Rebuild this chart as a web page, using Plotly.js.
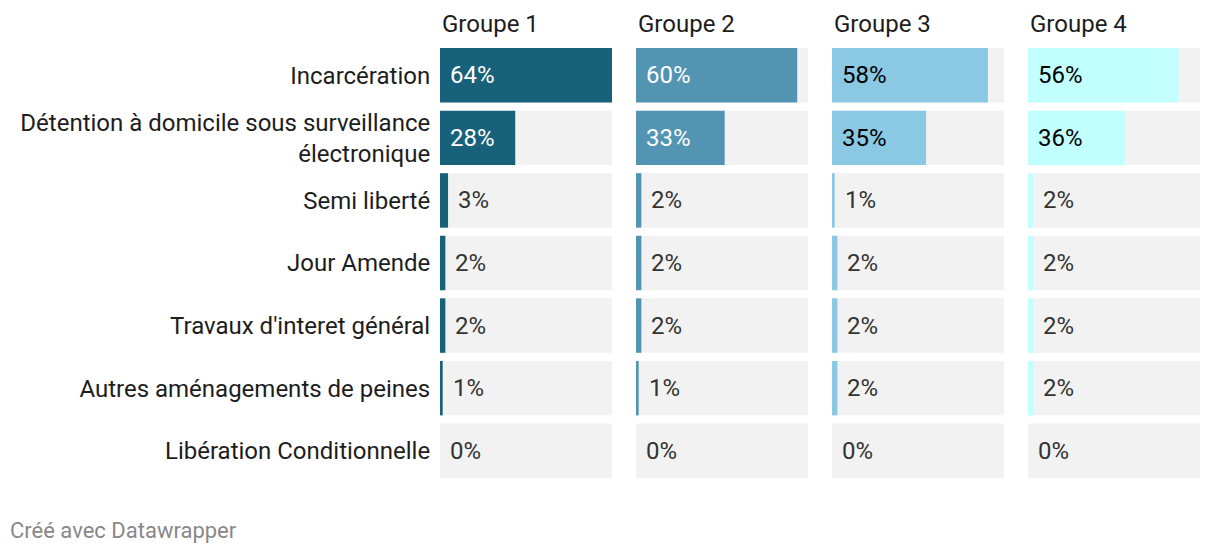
<!DOCTYPE html>
<html>
<head>
<meta charset="utf-8">
<script src="https://cdn.plot.ly/plotly-3.0.1.min.js"></script>
<style>
  html, body { margin: 0; padding: 0; background: #fff; }
  #chart { width: 1220px; height: 554px; }
</style>
</head>
<body>
<div id="chart"></div>
<script>
const categories = [
  'Incarcération',
  'Détention à domicile sous surveillance<br>électronique',
  'Semi liberté',
  'Jour Amende',
  "Travaux d'interet général",
  'Autres aménagements de peines',
  'Libération Conditionnelle'
];
const groups = ['Groupe 1', 'Groupe 2', 'Groupe 3', 'Groupe 4'];
const groupe1 = [64, 28, 3, 2, 2, 1, 0];
const groupe2 = [60, 33, 2, 2, 2, 1, 0];
const groupe3 = [58, 35, 1, 2, 2, 2, 0];
const groupe4 = [56, 36, 2, 2, 2, 2, 0];

const series = [groupe1, groupe2, groupe3, groupe4];
const colors = ['#18617a', '#5294b1', '#8bc8e4', '#c2ffff'];
const insideText = ['#ffffff', '#ffffff', '#000000', '#000000'];
const domains = [[0, 0.2263], [0.2579, 0.4842], [0.5158, 0.7421], [0.7737, 1]];
const maxVal = Math.max(...series.flat());
const font = 'Roboto, "Noto Sans", sans-serif';
const fs = 24;

let data = [];
let annotations = [];
let layout = {
  width: 1220,
  height: 554,
  margin: { l: 440, r: 20, t: 44, b: 72 },
  paper_bgcolor: '#ffffff',
  plot_bgcolor: '#ffffff',
  showlegend: false,
  barmode: 'overlay',
  bargap: 0.13,
  font: { family: font, size: fs, color: '#1d1d1d' }
};

series.forEach((vals, i) => {
  const xa = i === 0 ? 'x' : 'x' + (i + 1);
  const ya = i === 0 ? 'y' : 'y' + (i + 1);
  // grey background bar
  data.push({
    type: 'bar', orientation: 'h',
    x: categories.map(() => maxVal), y: categories,
    xaxis: xa, yaxis: ya,
    marker: { color: '#f2f2f2' },
    hoverinfo: 'skip'
  });
  data.push({
    type: 'bar', orientation: 'h',
    x: vals, y: categories,
    xaxis: xa, yaxis: ya,
    marker: { color: colors[i] },
    hovertemplate: '%{x}%<extra></extra>'
  });
  layout['xaxis' + (i === 0 ? '' : i + 1)] = {
    domain: domains[i], range: [0, maxVal], anchor: ya,
    showgrid: false, zeroline: false, showticklabels: false, fixedrange: true
  };
  layout['yaxis' + (i === 0 ? '' : i + 1)] = {
    domain: [0, 1], anchor: xa, autorange: 'reversed',
    showgrid: false, zeroline: false, showline: false,
    showticklabels: i === 0,
    ticks: i === 0 ? 'outside' : '', ticklen: 4, tickcolor: 'rgba(0,0,0,0)',
    tickfont: { family: font, size: fs, color: '#1d1d1d' },
    fixedrange: true
  };
  annotations.push({
    text: groups[i], xref: xa + ' domain', yref: 'paper',
    x: 0, y: 1, xanchor: 'left', yanchor: 'bottom', yshift: 4, showarrow: false,
    font: { family: font, size: fs, color: '#1d1d1d' }
  });
  vals.forEach((v, j) => {
    const inside = v >= 10;
    annotations.push({
      text: v + '%', xref: xa, yref: ya,
      x: inside ? 0 : v, y: categories[j],
      xanchor: 'left', xshift: 8, showarrow: false,
      font: { family: font, size: fs, color: inside ? insideText[i] : '#333333' }
    });
  });
});

annotations.push({
  text: 'Créé avec Datawrapper', xref: 'paper', yref: 'paper',
  x: -432 / 760, y: 0, xanchor: 'left', yanchor: 'middle', yshift: -48,
  showarrow: false, font: { family: font, size: 22, color: '#888888' }
});
layout.annotations = annotations;

Plotly.newPlot('chart', data, layout, { displayModeBar: false, staticPlot: true });
</script>
</body>
</html>
